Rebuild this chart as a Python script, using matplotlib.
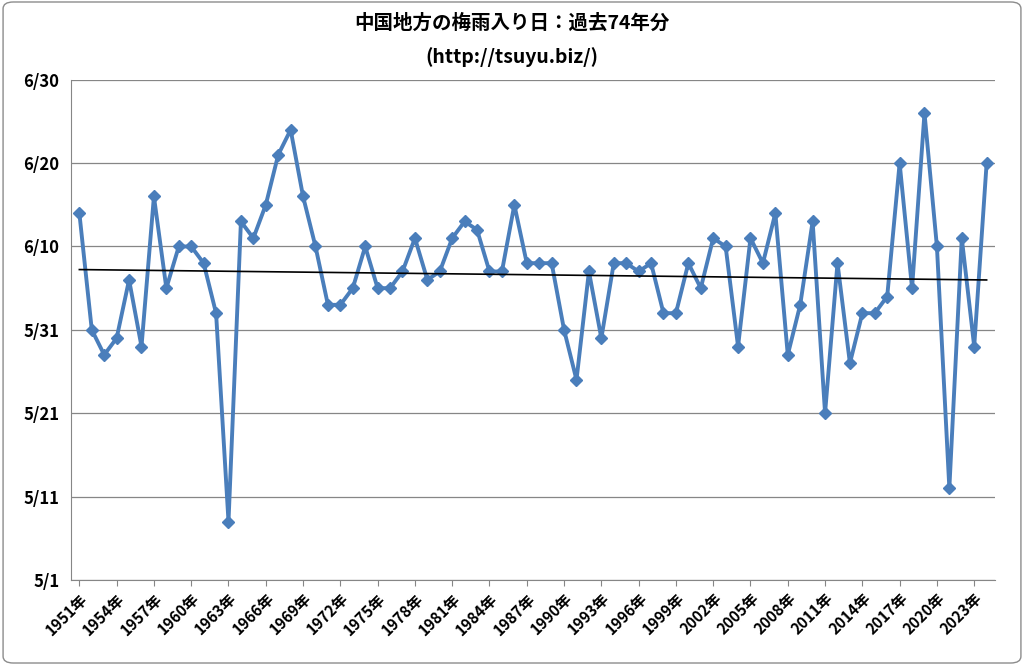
import numpy as np
import matplotlib.pyplot as plt
from matplotlib.patches import FancyBboxPatch

plt.rcParams["font.family"] = ["Noto Sans CJK JP", "DejaVu Sans"]

# ── データ ──────────────────────────────────────────────
years = list(range(1951, 2025))
# 5/1 からの日数
days = [44, 30, 27, 29, 36, 28, 46, 35, 40, 40,
        38, 32, 7, 43, 41, 45, 51, 54, 46, 40,
        33, 33, 35, 40, 35, 35, 37, 41, 36, 37,
        41, 43, 42, 37, 37, 45, 38, 38, 38, 30,
        24, 37, 29, 38, 38, 37, 38, 32, 32, 38,
        35, 41, 40, 28, 41, 38, 44, 27, 33, 43,
        20, 38, 26, 32, 32, 34, 50, 35, 56, 40,
        11, 41, 28, 50]
ytick_labels = ["5/1", "5/11", "5/21", "5/31", "6/10", "6/20", "6/30"]

fig = plt.figure(figsize=(10.24, 6.65), dpi=100)
fig.patches.append(FancyBboxPatch((0.003, 0.003), 0.994, 0.994,
                                  boxstyle="round,pad=0,rounding_size=0.01",
                                  transform=fig.transFigure, fill=False,
                                  ec="#8c8c8c", lw=1))
ax = fig.add_axes([0.069, 0.128, 0.903, 0.752])

x = np.array(years)
y = np.array(days)
ax.plot(x, y, color="#4a7ebb", lw=2.8, marker="D", ms=6, zorder=3)

# 線形近似
k, b = np.polyfit(x, y, 1)
ax.plot([x[0], x[-1]], [k * x[0] + b, k * x[-1] + b], color="black", lw=1.2, zorder=4)

ax.set_xlim(1950.3, 2024.7)
ax.set_ylim(0, 60)
ax.set_yticks(range(0, 61, 10))
ax.set_yticklabels(ytick_labels, fontsize=12, fontweight="bold")
ax.set_xticks(years[::3])
ax.set_xticklabels([f"{v}年" for v in years[::3]], rotation=45, ha="right",
                   rotation_mode="anchor", fontsize=11, fontweight="bold")
ax.grid(axis="y", color="#868686", lw=0.9)
ax.set_axisbelow(True)
for s in ["top", "right"]:
    ax.spines[s].set_visible(False)
ax.spines["left"].set_color("#868686")
ax.spines["bottom"].set_color("#868686")
ax.tick_params(axis="y", length=0, pad=8)
ax.tick_params(axis="x", length=4, color="#868686")

fig.text(0.5, 0.965, "中国地方の梅雨入り日：過去74年分", ha="center", va="center",
         fontsize=14, fontweight="bold")
fig.text(0.5, 0.915, "(http://tsuyu.biz/)", ha="center", va="center",
         fontsize=14, fontweight="bold")

fig.savefig("out.png", dpi=100)
